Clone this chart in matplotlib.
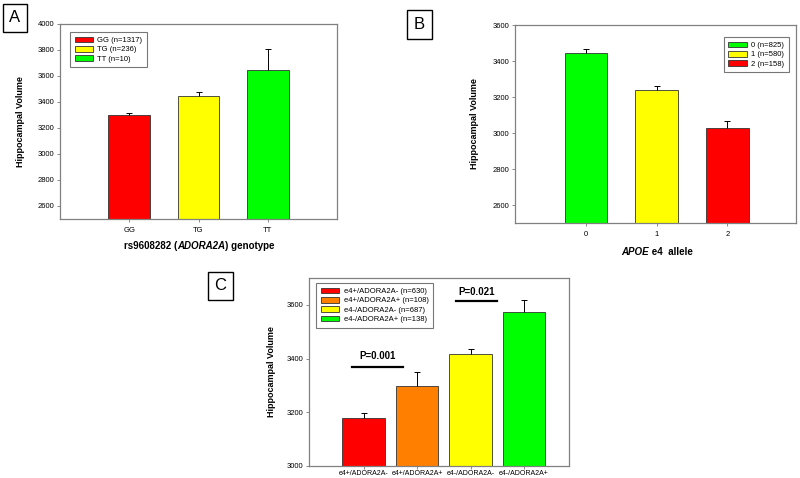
import matplotlib
matplotlib.use("Agg")
import matplotlib.pyplot as plt
from matplotlib.patches import Rectangle, Patch

plt.rcParams['font.family'] = ['Liberation Sans', 'DejaVu Sans']

# panel A
a_cats = ['GG', 'TG', 'TT']
a_legend = ['GG (n=1317)', 'TG (n=236)', 'TT (n=10)']
a_vals = [3300, 3445, 3645]
a_err = [12, 30, 162]
a_colors = ['#ff0000', '#ffff00', '#00ff00']

# panel B
b_cats = ['0', '1', '2']
b_legend = ['0 (n=825)', '1 (n=580)', '2 (n=158)']
b_vals = [3443, 3240, 3028]
b_err = [22, 22, 39]
b_colors = ['#00ff00', '#ffff00', '#ff0000']

# panel C
c_cats = ['e4+/ADORA2A-', 'e4+/ADORA2A+', 'e4-/ADORA2A-', 'e4-/ADORA2A+']
c_legend = ['e4+/ADORA2A- (n=630)', 'e4+/ADORA2A+ (n=108)',
            'e4-/ADORA2A- (n=687)', 'e4-/ADORA2A+ (n=138)']
c_vals = [3178, 3299, 3416, 3575]
c_err = [21, 50, 20, 42]
c_colors = ['#ff0000', '#ff8000', '#ffff00', '#00ff00']
c_pvals = ['P=0.001', 'P=0.021']

W, H = 800, 478
fig = plt.figure(figsize=(W / 100, H / 100), dpi=100)


def rect(l, t, r, b):
    return [l / W, 1 - b / H, (r - l) / W, (b - t) / H]


def bar_panel(ax, cats, vals, err, colors, width, ylim, yticks, xlim):
    x = list(range(len(cats)))
    ax.bar(x, vals, width=width, color=colors, edgecolor='#333333', linewidth=0.6, zorder=2)
    eb = ax.errorbar(x, vals, yerr=[[0] * len(x), err], fmt='none', ecolor='black',
                     elinewidth=0.7, capsize=2.5, capthick=0.7, zorder=3)
    eb[1][0].set_visible(False)
    ax.set_ylim(*ylim)
    ax.set_xlim(*xlim)
    ax.set_yticks(yticks)
    ax.set_xticks(x)
    ax.set_xticklabels(cats)
    ax.tick_params(axis='both', labelsize=5.5, length=2.5, width=0.6, color='#777777', pad=1.5)
    ax.tick_params(axis='x', pad=3)
    for s in ax.spines.values():
        s.set_color('#808080')
        s.set_linewidth(0.9)
    ax.set_ylabel('Hippocampal Volume', fontsize=6.5, fontweight='bold')
    ax.yaxis.set_label_coords(-0.127, 0.5)


def add_legend(ax, labels, colors, **kw):
    handles = [Patch(facecolor=c, edgecolor='#333333', linewidth=0.6) for c in colors]
    leg = ax.legend(handles, labels, fontsize=5.5, fancybox=False, handlelength=2.4,
                    handleheight=0.75, handletextpad=0.6, labelspacing=0.25,
                    borderaxespad=0, borderpad=0.6, **kw)
    leg.get_frame().set_edgecolor('#555555')
    leg.get_frame().set_linewidth(0.8)


def segments(parts, xc, yc):
    # draw text pieces side by side, centred at pixel (xc, yc)
    texts = [fig.text(0, 0, s, fontsize=7, fontweight='bold', fontstyle=st, va='center')
             for s, st in parts]
    fig.canvas.draw()
    r = fig.canvas.get_renderer()
    widths = [t.get_window_extent(r).width for t in texts]
    x = xc - sum(widths) / 2
    for t, w in zip(texts, widths):
        t.set_position((x / W, 1 - yc / H))
        x += w


def panel_box(letter, l, t, r, b):
    fig.patches.append(Rectangle((l / W, 1 - b / H), (r - l) / W, (b - t) / H,
                                 transform=fig.transFigure, fill=False,
                                 edgecolor='black', linewidth=1.0))
    fig.text((l + r) / 2 / W, 1 - (t + b) / 2 / H, letter, fontsize=12,
             ha='center', va='center')


axA = fig.add_axes(rect(60, 24, 337, 219))
bar_panel(axA, a_cats, a_vals, a_err, a_colors, 0.6, (2500, 4000),
          range(2600, 4001, 200), (-1.0, 3.0))
add_legend(axA, a_legend, a_colors, loc='upper left', bbox_to_anchor=(0.036, 0.959))

axB = fig.add_axes(rect(515, 25, 796, 223))
bar_panel(axB, b_cats, b_vals, b_err, b_colors, 0.6, (2500, 3600),
          range(2600, 3601, 200), (-1.0, 2.97))
add_legend(axB, b_legend, b_colors, loc='upper right', bbox_to_anchor=(0.975, 0.939))

axC = fig.add_axes(rect(309, 278, 569, 466))
bar_panel(axC, c_cats, c_vals, c_err, c_colors, 0.79, (3000, 3700),
          range(3000, 3601, 200), (-1.02, 3.84))
axC.tick_params(axis='x', labelsize=5.0, length=2, pad=0.8)
add_legend(axC, c_legend, c_colors, loc='upper left', bbox_to_anchor=(0.027, 0.973))

# significance bars
axC.plot([-0.21, 0.73], [3369, 3369], color='black', lw=1.6)
axC.text(0.26, 3408, c_pvals[0], ha='center', va='center', fontsize=7, fontweight='bold')
axC.plot([1.72, 2.50], [3614, 3614], color='black', lw=1.6)
axC.text(2.11, 3648, c_pvals[1], ha='center', va='center', fontsize=7, fontweight='bold')

segments([('rs9608282 (', 'normal'), ('ADORA2A', 'italic'), (') genotype', 'normal')], 199, 246)
segments([('APOE', 'italic'), (' e4  allele', 'normal')], 657, 252)

panel_box('A', 3, 4, 27, 32)
panel_box('B', 407, 10, 432, 39)
panel_box('C', 208, 272, 233, 300)

fig.savefig('out.png', dpi=100)
